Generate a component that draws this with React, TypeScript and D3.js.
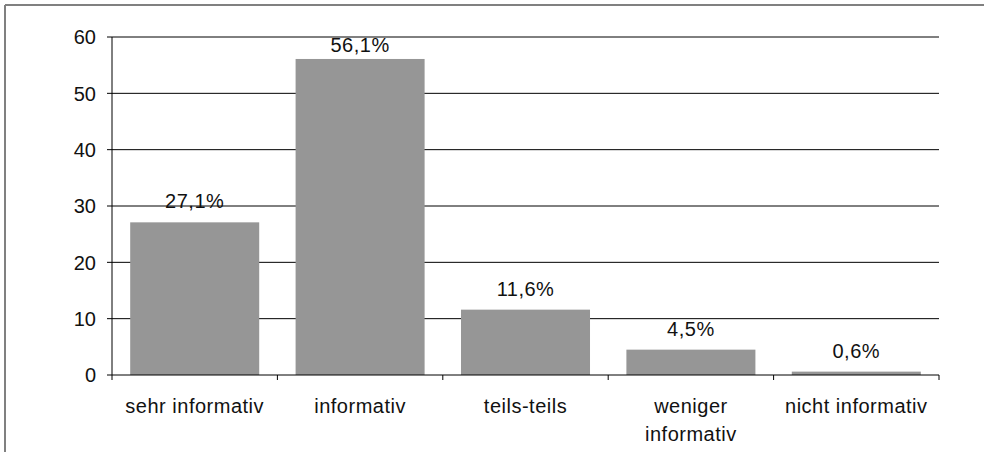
import React from "react";
import * as d3 from "d3";

// Bewertung der Informationen (Anteile in Prozent)
const categories: string[][] = [
  ["sehr informativ"],
  ["informativ"],
  ["teils-teils"],
  ["weniger", "informativ"],
  ["nicht informativ"],
];
const values: number[] = [27.1, 56.1, 11.6, 4.5, 0.6];
const valueLabels: string[] = ["27,1%", "56,1%", "11,6%", "4,5%", "0,6%"];
const yTicks: number[] = [0, 10, 20, 30, 40, 50, 60];

const W = 984;
const H = 452;
const plot = { left: 112, right: 939, top: 37, bottom: 375 };
const FONT = "'Liberation Sans', Arial, sans-serif";

export default function App() {
  const x = d3
    .scaleBand<number>()
    .domain(d3.range(values.length))
    .range([plot.left, plot.right])
    .paddingInner(0.22)
    .paddingOuter(0.11);
  const y = d3.scaleLinear().domain([0, 60]).range([plot.bottom, plot.top]);
  const step = x.step();
  const boundaries = d3.range(values.length + 1).map((i) => plot.left + i * step);

  // labels sit above the bar but are kept inside the plot area
  const labelY = (v: number) => Math.max(y(v) - 14, plot.top + 15);

  return (
    <div style={{ position: "fixed", left: 0, top: 0 }}>
      <svg width={W} height={H} style={{ display: "block", background: "#fff" }}>
        {/* frame */}
        <line x1={5} y1={5} x2={W} y2={5} stroke="#808080" strokeWidth={2} />
        <line x1={5} y1={5} x2={5} y2={H} stroke="#808080" strokeWidth={2} />

        {/* gridlines and y ticks */}
        {yTicks.map((t) => (
          <g key={t}>
            {t > 0 && (
              <line x1={plot.left} x2={plot.right} y1={y(t)} y2={y(t)} stroke="#000" strokeWidth={1} />
            )}
            <line x1={plot.left - 5} x2={plot.left} y1={y(t)} y2={y(t)} stroke="#000" strokeWidth={1} />
            <text
              x={plot.left - 16}
              y={y(t)}
              dy="0.36em"
              textAnchor="end"
              fontFamily={FONT}
              fontSize={20}
              fill="#111"
            >
              {t}
            </text>
          </g>
        ))}

        {/* bars */}
        {values.map((v, i) => (
          <rect
            key={i}
            x={x(i)}
            y={y(v)}
            width={x.bandwidth()}
            height={y(0) - y(v)}
            fill="#969696"
          />
        ))}

        {/* value labels */}
        {values.map((v, i) => (
          <text
            key={i}
            x={(x(i) as number) + x.bandwidth() / 2}
            y={labelY(v)}
            textAnchor="middle"
            fontFamily={FONT}
            fontSize={20}
            letterSpacing={0.5}
            fill="#111"
          >
            {valueLabels[i]}
          </text>
        ))}

        {/* axes */}
        <line x1={plot.left} x2={plot.left} y1={plot.top} y2={plot.bottom} stroke="#000" strokeWidth={1} />
        <line x1={plot.left} x2={plot.right} y1={plot.bottom} y2={plot.bottom} stroke="#000" strokeWidth={1} />
        {boundaries.map((bx, i) => (
          <line key={i} x1={bx} x2={bx} y1={plot.bottom} y2={plot.bottom + 5} stroke="#000" strokeWidth={1} />
        ))}

        {/* category labels */}
        {categories.map((lines, i) => (
          <text
            key={i}
            x={(x(i) as number) + x.bandwidth() / 2}
            y={413}
            textAnchor="middle"
            fontFamily={FONT}
            fontSize={20}
            letterSpacing={0.5}
            fill="#111"
          >
            {lines.map((l, j) => (
              <tspan key={j} x={(x(i) as number) + x.bandwidth() / 2} dy={j === 0 ? 0 : 28}>
                {l}
              </tspan>
            ))}
          </text>
        ))}
      </svg>
    </div>
  );
}
